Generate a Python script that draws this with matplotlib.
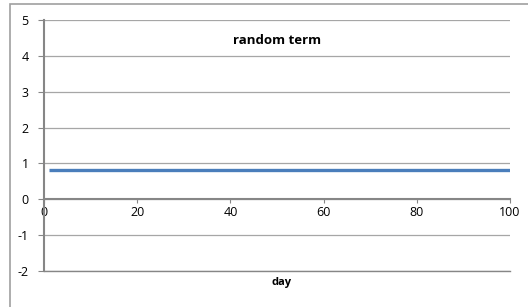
import numpy as np
import matplotlib.pyplot as plt
from matplotlib.patches import Rectangle

plt.rcParams['font.family'] = ['Open Sans', 'DejaVu Sans']
plt.rcParams['axes.unicode_minus'] = False

day = np.arange(1, 101)
random_term = np.full(len(day), 0.82)

x_ticks = [0, 20, 40, 60, 80, 100]
y_ticks = [-2, -1, 0, 1, 2, 3, 4, 5]

fig = plt.figure(figsize=(5.28, 3.07), dpi=100)
fig.patches.append(Rectangle((10 / 528, -0.1), 1.2, 1 - 4 / 307 + 0.1,
                             transform=fig.transFigure, fill=False,
                             edgecolor='#a0a0a0', linewidth=1.2))
ax = fig.add_axes([44 / 528, 1 - 271 / 307, 466 / 528, 251 / 307])

ax.plot(day, random_term, color='#4a7ebb', linewidth=2.4, solid_capstyle='butt')

ax.set_xlim(0, 100)
ax.set_ylim(-2, 5)
ax.set_xticks(x_ticks)
ax.set_yticks(y_ticks)
ax.grid(axis='y', color='#a6a6a6', linewidth=0.9)
ax.set_axisbelow(True)

for s in ['top', 'right']:
    ax.spines[s].set_visible(False)
ax.spines['left'].set_color('#868686')
ax.spines['left'].set_linewidth(1.5)
ax.spines['bottom'].set_position(('data', 0))
ax.spines['bottom'].set_color('#868686')
ax.spines['bottom'].set_linewidth(1.5)
ax.axhline(-2, color='#868686', linewidth=1.0, clip_on=False)

ax.tick_params(axis='y', direction='out', length=4, color='#868686', labelsize=9, pad=7)
ax.tick_params(axis='x', direction='out', length=3, color='#868686', labelsize=9, pad=2)

ax.text(0.5, 0.92, 'random term', transform=ax.transAxes, ha='center', va='center',
        fontsize=9.5, fontweight='bold')
fig.text(282 / 528, 1 - 282 / 307, 'day', ha='center', va='center',
         fontsize=8, fontweight='bold')

fig.savefig('out.png', dpi=100)
